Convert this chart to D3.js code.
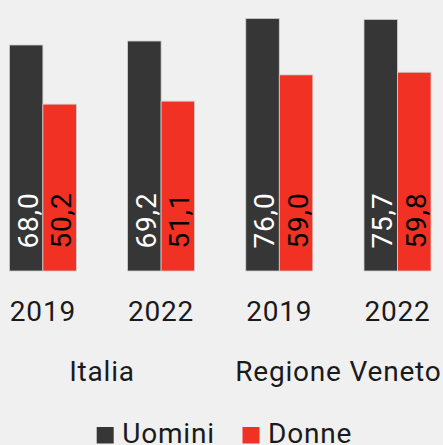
<!DOCTYPE html>
<html>
<head>
<meta charset="utf-8">
<script src="https://cdn.jsdelivr.net/npm/d3@7"></script>
<style>
  html, body { margin: 0; padding: 0; background: #f0f0f0; overflow: hidden; }
  text { font-family: "Roboto", "Liberation Sans", sans-serif; letter-spacing: 0.8px; }
</style>
</head>
<body>
<div id="root" style="width:443px;height:445px;"></div>
<script>
// data
var regions = ["Italia", "Regione Veneto"];
var years = ["2019", "2022", "2019", "2022"];
var uomini = [68.0, 69.2, 76.0, 75.7];
var donne = [50.2, 51.1, 59.0, 59.8];
var series = ["Uomini", "Donne"];
var colors = ["#363636", "#f03124"];

var width = 443, height = 445, fs = 28;

var svg = d3.select("#root").append("svg")
    .attr("width", width)
    .attr("height", height);

var rows = years.map(function(y, i) {
    return {key: i, year: y, region: regions[Math.floor(i / 2)], values: [uomini[i], donne[i]]};
});

var x0 = d3.scaleBand()
    .domain(rows.map(function(d) { return d.key; }))
    .range([-16.2, 456.6])
    .paddingInner(0.433)
    .paddingOuter(0.2165);

var x1 = d3.scaleBand()
    .domain(series)
    .range([0, x0.bandwidth()]);

var y = d3.scaleLinear()
    .domain([0, 80])
    .range([271, 271 - 80 * 3.3235]);

var fmt = function(v) { return d3.format(".1f")(v).replace(".", ","); };

var groups = svg.append("g").attr("class", "bars")
    .selectAll("g")
    .data(rows)
    .enter()
    .append("g")
    .attr("transform", function(d) { return "translate(" + x0(d.key) + ",0)"; });

groups.selectAll("rect")
    .data(function(d) { return d.values.map(function(v, i) { return {s: series[i], v: v, c: colors[i]}; }); })
    .enter()
    .append("rect")
    .attr("x", function(d) { return x1(d.s); })
    .attr("y", function(d) { return y(d.v); })
    .attr("width", x1.bandwidth())
    .attr("height", function(d) { return y(0) - y(d.v); })
    .attr("fill", function(d) { return d.c; })
    .attr("stroke", "#d0d0d0")
    .attr("stroke-width", 0.8);

// value labels, rotated, at bar base
groups.selectAll("text.val")
    .data(function(d) { return d.values.map(function(v, i) { return {s: series[i], v: v, i: i}; }); })
    .enter()
    .append("text")
    .attr("class", "val")
    .attr("transform", function(d) {
        var cx = x1(d.s) + x1.bandwidth() / 2 + 11.5;
        return "translate(" + cx + "," + (y(0) - 22.5) + ") rotate(-90)";
    })
    .attr("font-size", fs)
    .attr("fill", function(d) { return d.i === 0 ? "#ffffff" : "#000000"; })
    .text(function(d) { return fmt(d.v); });

// year labels
svg.append("g").selectAll("text")
    .data(rows)
    .enter()
    .append("text")
    .attr("x", function(d) { return x0(d.key) + x0.bandwidth() / 2; })
    .attr("y", 320.5)
    .attr("text-anchor", "middle")
    .attr("font-size", fs)
    .attr("fill", "#1a1a1a")
    .text(function(d) { return d.year; });

// region labels
svg.append("g").selectAll("text")
    .data(regions)
    .enter()
    .append("text")
    .attr("x", function(d, i) {
        var a = x0(i * 2), b = x0(i * 2 + 1) + x0.bandwidth();
        return (a + b) / 2;
    })
    .attr("y", 381)
    .attr("text-anchor", "middle")
    .attr("font-size", fs)
    .attr("fill", "#1a1a1a")
    .text(function(d) { return d; });

// legend
var legX = [96.7, 242.5];
var leg = svg.append("g").selectAll("g")
    .data(series)
    .enter()
    .append("g")
    .attr("transform", function(d, i) { return "translate(" + legX[i] + ",427)"; });

leg.append("rect")
    .attr("width", 17)
    .attr("height", 16.5)
    .attr("fill", function(d, i) { return colors[i]; });

leg.append("text")
    .attr("x", 25.5)
    .attr("y", 16)
    .attr("font-size", fs)
    .attr("fill", "#1a1a1a")
    .text(function(d) { return d; });
</script>
</body>
</html>
